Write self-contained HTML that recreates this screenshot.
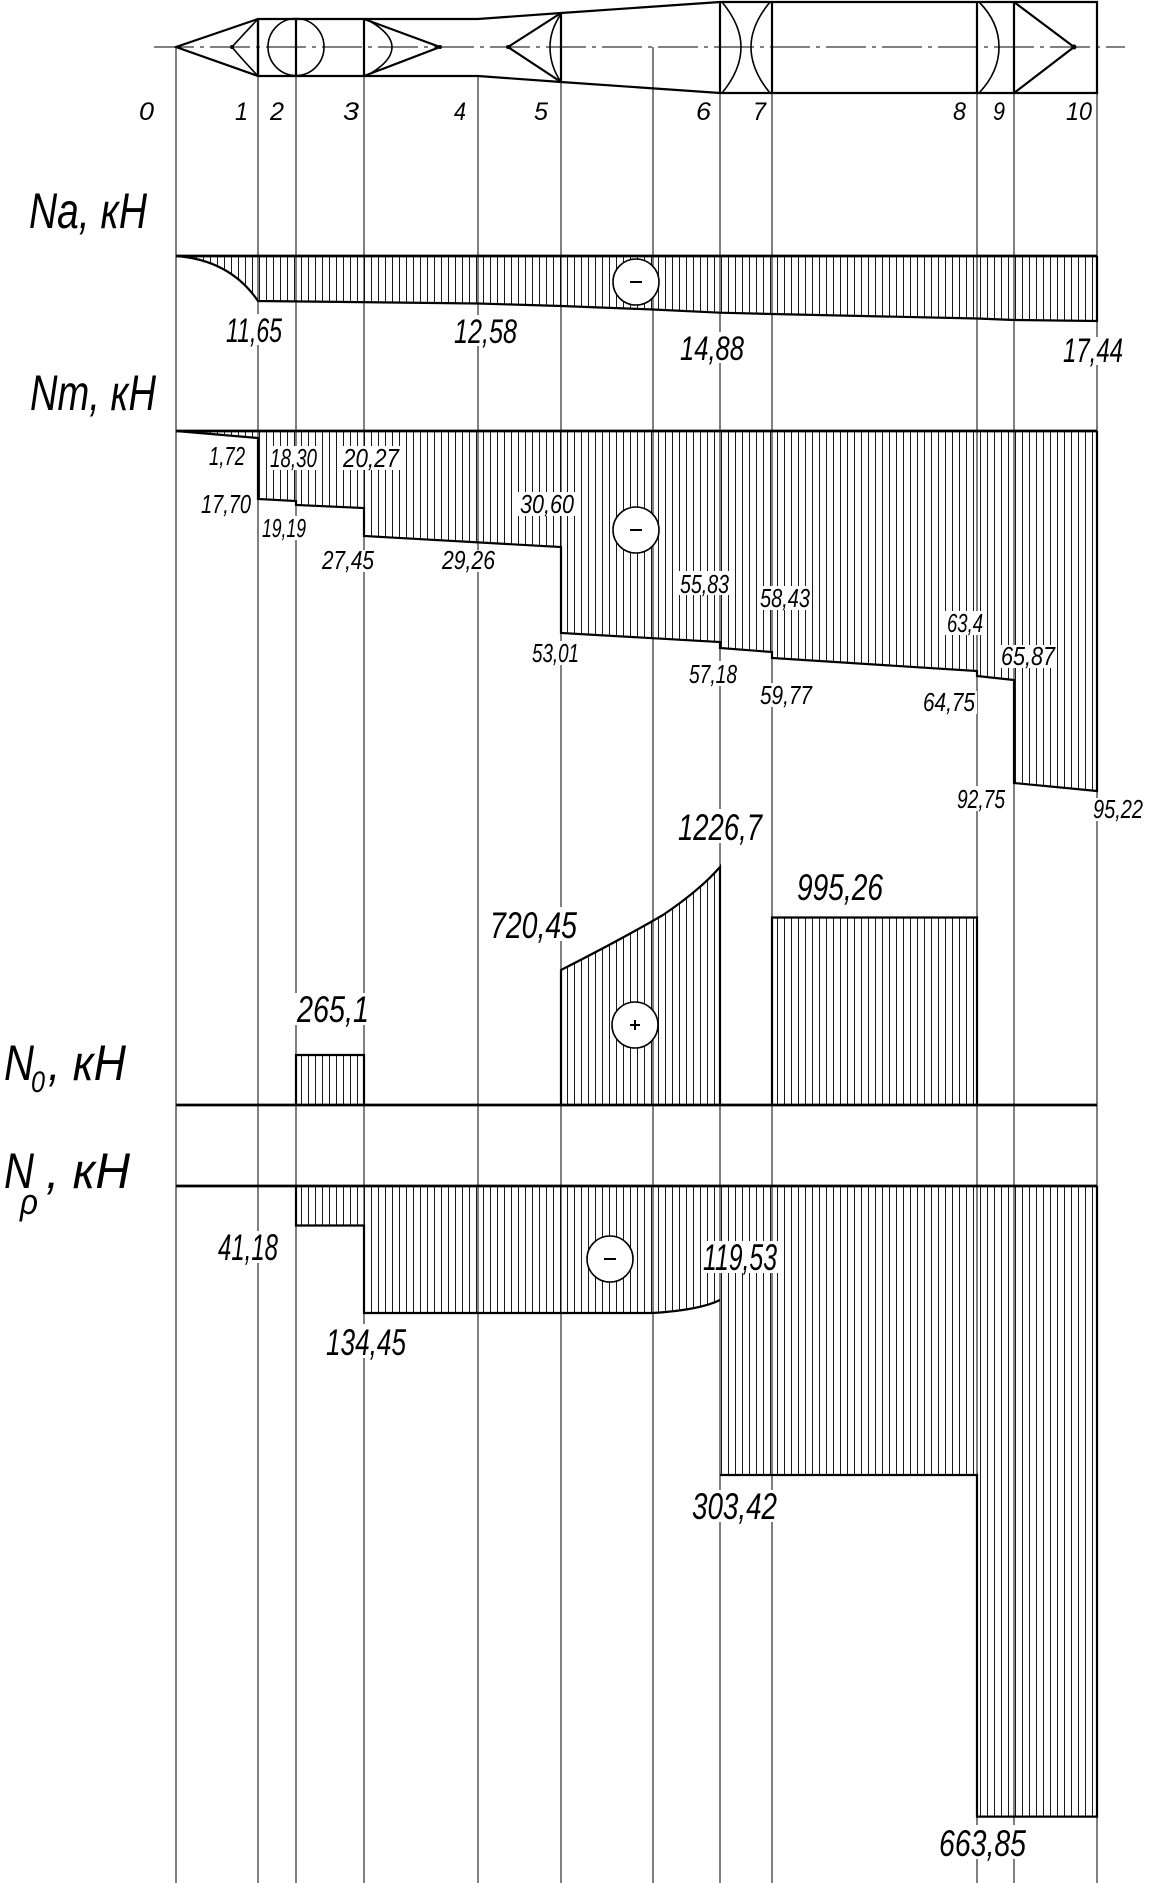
<!DOCTYPE html>
<html><head><meta charset="utf-8"><style>
html,body{margin:0;padding:0;background:#fff;}
svg{display:block;}
text{font-family:"Liberation Sans",sans-serif;font-style:italic;fill:#000;}
</style></head><body>
<svg width="1149" height="1883" viewBox="0 0 1149 1883" xmlns="http://www.w3.org/2000/svg">
<defs>
<pattern id="h" patternUnits="userSpaceOnUse" width="7" height="10"><line x1="0.5" y1="0" x2="0.5" y2="10" stroke="#000" stroke-width="0.9"/></pattern>
</defs>
<g fill="url(#h)" stroke="none">
<path d="M176,256 Q230,260 258,301 L478,303.5 561,306 653,309.5 720,312.7 772,314 977,318.5 1014,320 1097,321 L1097,256 Z"/>
<path d="M176,431 L258,438 L258,499 L296,501 L296,505 L364,508 L364,536 L561,547 L561,633 L720,642 L720,648 L772,652 L772,658 L977,671 L977,676 L1014,680 L1014,783 L1097,791 L1097,431 Z"/>
<path d="M296,1105 L296,1055 L364,1055 L364,1105 Z"/>
<path d="M561,1105 L561,970 Q620,940 663,915 Q700,890 720,867 L720,1105 Z"/>
<path d="M772,1105 L772,917.5 L977,917.5 L977,1105 Z"/>
<path d="M296,1186 L296,1225.5 L364,1225.5 L364,1313 L653,1313 Q700,1310 720,1300 L720,1475 L977,1475 L977,1816.6 L1097,1816.6 L1097,1186 Z"/>
</g>
<g stroke="#000" stroke-width="1">
<line x1="176" y1="47" x2="176" y2="1883"/>
<line x1="258" y1="76" x2="258" y2="1883"/>
<line x1="296" y1="76" x2="296" y2="1883"/>
<line x1="364" y1="76" x2="364" y2="1883"/>
<line x1="478" y1="76" x2="478" y2="1883"/>
<line x1="561" y1="82" x2="561" y2="1883"/>
<line x1="653" y1="47" x2="653" y2="1883"/>
<line x1="720" y1="93" x2="720" y2="1883"/>
<line x1="772" y1="93" x2="772" y2="1883"/>
<line x1="977" y1="93" x2="977" y2="1883"/>
<line x1="1014" y1="93" x2="1014" y2="1883"/>
<line x1="1097" y1="93" x2="1097" y2="1883"/>
</g>
<line x1="154" y1="47" x2="1125" y2="47" stroke="#000" stroke-width="1" stroke-dasharray="40,6,4,6"/>
<g fill="none" stroke="#000" stroke-width="2.2">
<path d="M258,19 L478,19 L561,13 L720,2 L1097,2 L1097,93 L720,93 L561,82 L478,76 L258,76 Z"/>
<path d="M258,19 L258,76 M296,19 L296,76 M364,19 L364,76 M720,2 L720,93 M772,2 L772,93 M977,2 L977,93 M1014,2 L1014,93 M561,13 L561,82"/>
<path d="M258,19 L176,47 L258,76"/>
<path d="M258,19 Q240,38 232,47 Q240,57 258,76" stroke-width="1.6"/>
<ellipse cx="296" cy="47" rx="28" ry="28.5" stroke-width="1.6"/>
<path d="M364,19 L440,47 L364,76"/>
<path d="M366,19 Q392,33 392,47 Q392,62 366,76" stroke-width="1.6"/>
<path d="M561,13 L508,47 L561,82"/>
<path d="M561,14 Q550,30 550,47 Q550,66 561,82" stroke-width="1.6"/>
<path d="M722,2 Q741,25 741,47 Q741,70 722,93" stroke-width="1.6"/>
<path d="M770,2 Q751,25 751,47 Q751,70 770,93" stroke-width="1.6"/>
<path d="M979,2 Q999,22 999,47 Q999,72 979,93" stroke-width="1.6"/>
<path d="M1014,2 L1074,47 L1014,93"/>
</g>
<circle cx="232" cy="47" r="2" fill="#000"/>
<circle cx="440" cy="47" r="2" fill="#000"/>
<circle cx="508" cy="47" r="2" fill="#000"/>
<circle cx="1074" cy="47" r="2.5" fill="#000"/>
<g fill="none" stroke="#000" stroke-width="2.2">
<line x1="176" y1="256" x2="1097" y2="256" stroke-width="2.8"/>
<path d="M176,256 Q230,260 258,301 L478,303.5 561,306 653,309.5 720,312.7 772,314 977,318.5 1014,320 1097,321 L1097,256"/>
<line x1="176" y1="431" x2="1097" y2="431" stroke-width="2.8"/>
<path d="M176,431 L258,438 L258,499 L296,501 L296,505 L364,508 L364,536 L561,547 L561,633 L720,642 L720,648 L772,652 L772,658 L977,671 L977,676 L1014,680 L1014,783 L1097,791 L1097,431"/>
<line x1="176" y1="1105" x2="1097" y2="1105" stroke-width="2.8"/>
<path d="M296,1105 L296,1055 L364,1055 L364,1105"/>
<path d="M561,1105 L561,970 Q620,940 663,915 Q700,890 720,867 L720,1105"/>
<path d="M772,1105 L772,917.5 L977,917.5 L977,1105"/>
<line x1="176" y1="1186" x2="1097" y2="1186" stroke-width="2.8"/>
<path d="M296,1186 L296,1225.5 L364,1225.5 L364,1313 L653,1313 Q700,1310 720,1300 M720,1475 L977,1475 L977,1816.6 L1097,1816.6 L1097,1186"/>
</g>
<g fill="#fff" stroke="#000" stroke-width="1.6">
<circle cx="636" cy="282" r="23"/>
<circle cx="636" cy="530" r="23"/>
<circle cx="635" cy="1025" r="23"/>
<circle cx="610" cy="1259" r="23"/>
</g>
<g stroke="#000" stroke-width="2">
<line x1="630" y1="282" x2="642" y2="282"/>
<line x1="630" y1="530" x2="642" y2="530"/>
<line x1="604" y1="1259" x2="616" y2="1259"/>
<line x1="630" y1="1025" x2="640" y2="1025"/>
<line x1="635" y1="1020" x2="635" y2="1030"/>
</g>
<g fill="#fff">
<rect x="224" y="314" width="60" height="31"/><rect x="452" y="315" width="67" height="31"/><rect x="678" y="332" width="68" height="31"/><rect x="1061" y="337" width="64" height="28"/>
<rect x="207" y="445" width="40" height="23"/><rect x="268" y="446" width="51" height="24"/><rect x="341" y="446" width="60" height="24"/>
<rect x="199" y="493" width="54" height="23"/><rect x="260" y="516" width="48" height="24"/><rect x="518" y="492" width="58" height="24"/>
<rect x="320" y="550" width="56" height="22"/><rect x="440" y="550" width="57" height="22"/>
<rect x="678" y="571" width="53" height="24"/><rect x="758" y="586" width="54" height="24"/><rect x="945" y="611" width="40" height="24"/><rect x="999" y="645" width="58" height="23"/>
<rect x="530" y="641" width="51" height="24"/><rect x="687" y="661" width="52" height="25"/><rect x="758" y="683" width="56" height="24"/><rect x="921" y="691" width="56" height="23"/>
<rect x="955" y="786" width="52" height="25"/><rect x="1091" y="798" width="54" height="23"/>
<rect x="295" y="993" width="76" height="32"/><rect x="488" y="907" width="91" height="34"/><rect x="676" y="809" width="88" height="34"/><rect x="795" y="869" width="90" height="34"/>
<rect x="216" y="1231" width="64" height="32"/><rect x="701" y="1241" width="78" height="32"/><rect x="324" y="1324" width="84" height="34"/><rect x="690" y="1490" width="89" height="32"/><rect x="937" y="1825" width="91" height="34"/>
</g>
<g font-size="25">
<text x="139" y="120" textLength="15" lengthAdjust="spacingAndGlyphs">0</text>
<text x="235" y="120" textLength="13" lengthAdjust="spacingAndGlyphs">1</text>
<text x="270" y="120" textLength="14" lengthAdjust="spacingAndGlyphs">2</text>
<text x="343" y="120" textLength="16" lengthAdjust="spacingAndGlyphs">3</text>
<text x="454" y="120" textLength="12" lengthAdjust="spacingAndGlyphs">4</text>
<text x="534" y="120" textLength="14" lengthAdjust="spacingAndGlyphs">5</text>
<text x="696" y="120" textLength="15" lengthAdjust="spacingAndGlyphs">6</text>
<text x="753" y="120" textLength="13" lengthAdjust="spacingAndGlyphs">7</text>
<text x="953" y="120" textLength="13" lengthAdjust="spacingAndGlyphs">8</text>
<text x="993" y="120" textLength="12" lengthAdjust="spacingAndGlyphs">9</text>
<text x="1066" y="120" textLength="26" lengthAdjust="spacingAndGlyphs">10</text>
</g>
<g font-size="34">
<text x="226" y="342" textLength="56" lengthAdjust="spacingAndGlyphs">11,65</text>
<text x="454" y="343" textLength="63" lengthAdjust="spacingAndGlyphs">12,58</text>
<text x="680" y="360" textLength="64" lengthAdjust="spacingAndGlyphs">14,88</text>
<text x="1063" y="362" textLength="60" lengthAdjust="spacingAndGlyphs">17,44</text>
</g>
<g font-size="26">
<text x="209" y="465" textLength="36" lengthAdjust="spacingAndGlyphs">1,72</text>
<text x="270" y="467" textLength="47" lengthAdjust="spacingAndGlyphs">18,30</text>
<text x="343" y="467" textLength="56" lengthAdjust="spacingAndGlyphs">20,27</text>
<text x="201" y="513" textLength="50" lengthAdjust="spacingAndGlyphs">17,70</text>
<text x="262" y="537" textLength="44" lengthAdjust="spacingAndGlyphs">19,19</text>
<text x="520" y="513" textLength="54" lengthAdjust="spacingAndGlyphs">30,60</text>
<text x="322" y="569" textLength="52" lengthAdjust="spacingAndGlyphs">27,45</text>
<text x="442" y="569" textLength="53" lengthAdjust="spacingAndGlyphs">29,26</text>
<text x="680" y="593" textLength="49" lengthAdjust="spacingAndGlyphs">55,83</text>
<text x="760" y="607" textLength="50" lengthAdjust="spacingAndGlyphs">58,43</text>
<text x="947" y="632" textLength="36" lengthAdjust="spacingAndGlyphs">63,4</text>
<text x="1001" y="665" textLength="54" lengthAdjust="spacingAndGlyphs">65,87</text>
<text x="532" y="662" textLength="47" lengthAdjust="spacingAndGlyphs">53,01</text>
<text x="689" y="683" textLength="48" lengthAdjust="spacingAndGlyphs">57,18</text>
<text x="760" y="704" textLength="52" lengthAdjust="spacingAndGlyphs">59,77</text>
<text x="923" y="711" textLength="52" lengthAdjust="spacingAndGlyphs">64,75</text>
<text x="957" y="808" textLength="48" lengthAdjust="spacingAndGlyphs">92,75</text>
<text x="1093" y="818" textLength="50" lengthAdjust="spacingAndGlyphs">95,22</text>
</g>
<g font-size="37">
<text x="297" y="1022" textLength="72" lengthAdjust="spacingAndGlyphs">265,1</text>
<text x="490" y="938" textLength="87" lengthAdjust="spacingAndGlyphs">720,45</text>
<text x="678" y="840" textLength="84" lengthAdjust="spacingAndGlyphs">1226,7</text>
<text x="797" y="900" textLength="86" lengthAdjust="spacingAndGlyphs">995,26</text>
<text x="218" y="1260" textLength="60" lengthAdjust="spacingAndGlyphs">41,18</text>
<text x="703" y="1270" textLength="74" lengthAdjust="spacingAndGlyphs">119,53</text>
<text x="326" y="1355" textLength="80" lengthAdjust="spacingAndGlyphs">134,45</text>
<text x="692" y="1519" textLength="85" lengthAdjust="spacingAndGlyphs">303,42</text>
<text x="939" y="1856" textLength="87" lengthAdjust="spacingAndGlyphs">663,85</text>
</g>
<g font-size="50">
<text x="29" y="228" textLength="118" lengthAdjust="spacingAndGlyphs">Na, кН</text>
<text x="30" y="410" textLength="126" lengthAdjust="spacingAndGlyphs">Nm, кН</text>
<text x="4" y="1080" textLength="30" lengthAdjust="spacingAndGlyphs">N</text>
<text x="31" y="1092" font-size="30" textLength="14" lengthAdjust="spacingAndGlyphs">0</text>
<text x="48" y="1080" textLength="78" lengthAdjust="spacingAndGlyphs">, кН</text>
<text x="4" y="1188" textLength="30" lengthAdjust="spacingAndGlyphs">N</text>
<text x="20" y="1214" font-size="36" textLength="18" lengthAdjust="spacingAndGlyphs">ρ</text>
<text x="46" y="1188" textLength="84" lengthAdjust="spacingAndGlyphs">, кН</text>
</g>
</svg>
</body></html>
